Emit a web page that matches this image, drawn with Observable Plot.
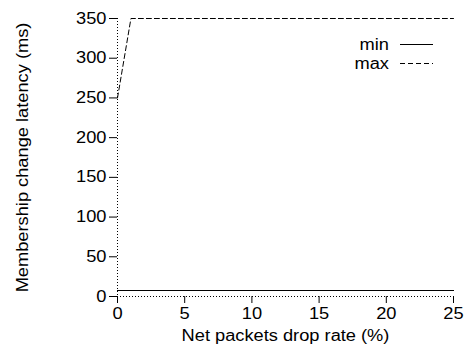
<!DOCTYPE html>
<html>
<head>
<meta charset="utf-8">
<script src="https://cdn.jsdelivr.net/npm/d3@7"></script>
<script src="https://cdn.jsdelivr.net/npm/@observablehq/plot@0.6"></script>
<style>
  html, body { margin: 0; padding: 0; background: #fff; }
  #chart { width: 466px; height: 345px; }
</style>
</head>
<body>
<div id="chart"></div>
<script>
const dropRates = [0, 1, 5, 10, 15, 20, 25];
const minLatency = [7, 7, 7, 7, 7, 7, 7];
const maxLatency = [250, 350, 350, 350, 350, 350, 350];
const xTicks = [0, 5, 10, 15, 20, 25];
const yTicks = [0, 50, 100, 150, 200, 250, 300, 350];
const seriesNames = ["min", "max"];

const rows = dropRates.map((d, i) => ({x: d, min: minLatency[i], max: maxLatency[i]}));

const FONT = "'Liberation Sans', Arial, Helvetica, sans-serif";

const plot = Plot.plot({
  width: 466,
  height: 345,
  marginLeft: 117,
  marginRight: 13,
  marginTop: 18,
  marginBottom: 49,
  style: {fontFamily: FONT, fontSize: "16px", color: "#000", background: "#fff"},
  x: {domain: [0, 25]},
  y: {domain: [0, 350]},
  marks: [
    Plot.ruleX([0], {stroke: "#000", strokeDasharray: "1,2", strokeWidth: 1}),
    Plot.ruleY([0], {stroke: "#000", strokeDasharray: "1,2", strokeWidth: 1}),
    Plot.axisX({ticks: xTicks, tickSize: 7, tickPadding: 4, fontSize: 16,
      label: "Net packets drop rate (%)", labelAnchor: "center", labelArrow: "none", labelOffset: 44}),
    Plot.axisY({ticks: yTicks, tickSize: 8, tickPadding: 3, fontSize: 16,
      label: "Membership change latency (ms)", labelAnchor: "center", labelArrow: "none", labelOffset: 101}),
    Plot.line(rows, {x: "x", y: "min", stroke: "#000", strokeWidth: 1, shapeRendering: "crispEdges"}),
    Plot.line(rows, {x: "x", y: "max", stroke: "#000", strokeWidth: 1, strokeDasharray: "5,3"})
  ]
});

document.getElementById("chart").appendChild(plot);

// legend
const svg = d3.select(plot);
const leg = svg.append("g").attr("font-family", FONT).attr("font-size", 16);
seriesNames.forEach((name, i) => {
  const y = 44 + i * 19;
  leg.append("text").attr("x", 389).attr("y", y).attr("dy", "0.35em")
    .attr("text-anchor", "end").attr("fill", "#000").text(name);
  leg.append("line").attr("x1", 400).attr("x2", 433).attr("y1", y + 0.5).attr("y2", y + 0.5)
    .attr("stroke", "#000").attr("stroke-width", 1)
    .attr("stroke-dasharray", i === 1 ? "5,3" : null);
});

// horizontal stretch of the text to match the reference glyph widths
plot.querySelectorAll("text").forEach(t => {
  const len = t.getComputedTextLength();
  if (len > 0) {
    t.setAttribute("textLength", (len * 1.14).toFixed(1));
    t.setAttribute("lengthAdjust", "spacingAndGlyphs");
  }
});
</script>
</body>
</html>
